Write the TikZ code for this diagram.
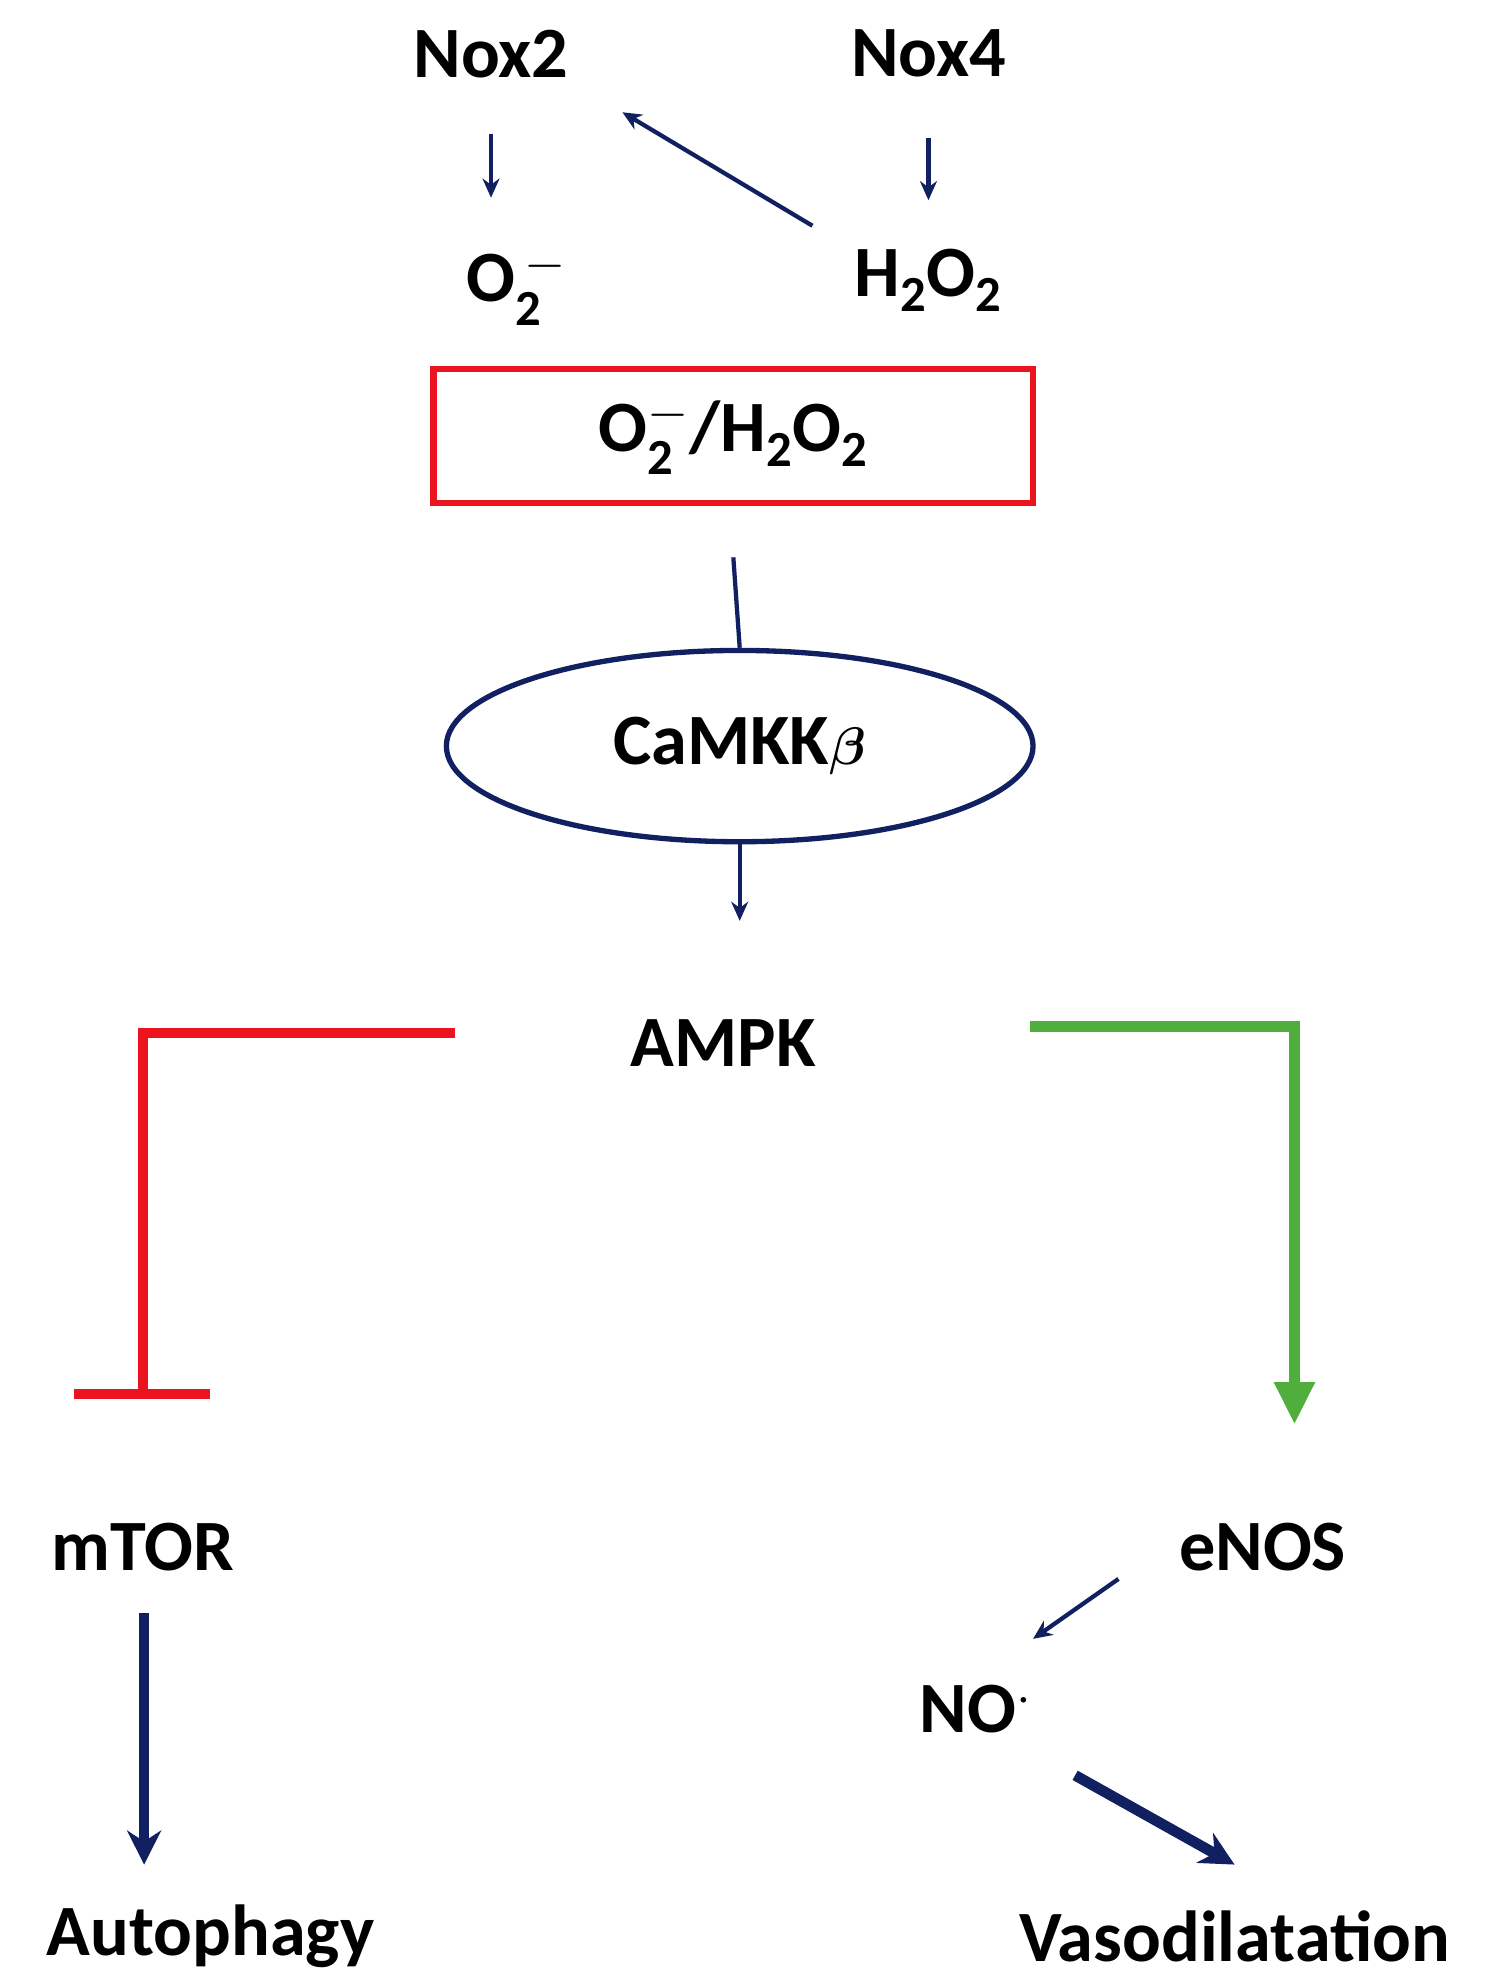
\documentclass[tikz,border=0pt]{standalone}
\usepackage{amsmath}
\usepackage{fontspec}
\setmainfont{Carlito}
\usetikzlibrary{arrows.meta,shapes.geometric}
\definecolor{navy}{RGB}{16,32,96}
\definecolor{myred}{RGB}{235,20,30}
\definecolor{mygreen}{RGB}{80,175,60}
\begin{document}
\begin{tikzpicture}[x=0.6pt,y=-0.6pt,
 lbl/.style={font=\fontsize{34}{40}\selectfont\bfseries,inner sep=0pt},
 thin/.style={navy,line width=2pt,-{Stealth[length=9pt,width=8pt]}},
 thick/.style={navy,line width=5pt,-{Stealth[length=16pt,width=16pt]}}]
\useasboundingbox (0,0) rectangle (1166,1558);
\node[lbl] (nox2) at (385,42) {Nox2};
\node[lbl] (nox4) at (728,42) {Nox4};
\node[lbl] (o2) at (405,225) {O$_\mathbf{2}^{\,\mathbf{-}}$};
\node[lbl] (h2o2) at (728,220) {H$_\mathbf{2}$O$_\mathbf{2}$};
\coordinate (a1) at (385,105); \coordinate (a2) at (385,155);
\coordinate (b1) at (728,108); \coordinate (b2) at (728,157);
\coordinate (c1) at (637,177); \coordinate (c2) at (488,88);
\draw[thin] (a1) -- (a2);
\draw[thin] (b1) -- (b2);
\draw[thin] (c1) -- (c2);
\node[draw=myred,line width=3pt,minimum width=282pt,minimum height=63pt,lbl] (box) at (575,342) {O$_\mathbf{2}^{\mathbf{-}}$/H$_\mathbf{2}$O$_\mathbf{2}$};
\node[draw=navy,line width=2.5pt,ellipse,minimum width=276pt,minimum height=90pt,lbl] (cam) at (580,585) {CaMKK$\boldsymbol{\beta}$};
\coordinate (d1) at (575,437);
\draw[navy,line width=2pt] (d1) -- (cam.north);
\coordinate (e2) at (580,722);
\draw[thin] (cam.south) -- (e2);
\node[lbl] (ampk) at (567,818) {AMPK};
\coordinate (r1) at (357,810); \coordinate (r2) at (112,810); \coordinate (r3) at (112,1093);
\coordinate (rb1) at (58,1093); \coordinate (rb2) at (165,1093);
\draw[myred,line width=5pt] (r1) -- (r2) -- (r3);
\draw[myred,line width=5pt] (rb1) -- (rb2);
\coordinate (g1) at (808,805); \coordinate (g2) at (1015,805); \coordinate (g3) at (1015,1117);
\draw[mygreen,line width=5pt,-{Triangle[length=20pt,width=18pt]}] (g1) -- (g2) -- (g3);
\node[lbl] (mtor) at (112,1213) {mTOR};
\node[lbl] (enos) at (990,1213) {eNOS};
\node[lbl] (no) at (765,1340) {NO$^{\mathbf{\cdot}}$};
\node[lbl] (auto) at (165,1518) {Autophagy};
\node[lbl] (vaso) at (968,1518) {Vasodilatation};
\coordinate (m1) at (113,1265); \coordinate (m2) at (113,1462);
\draw[thick] (m1) -- (m2);
\coordinate (n1) at (877,1238); \coordinate (n2) at (810,1285);
\draw[thin] (n1) -- (n2);
\coordinate (v1) at (843,1392); \coordinate (v2) at (968,1462);
\draw[thick] (v1) -- (v2);
\end{tikzpicture}
\end{document}
